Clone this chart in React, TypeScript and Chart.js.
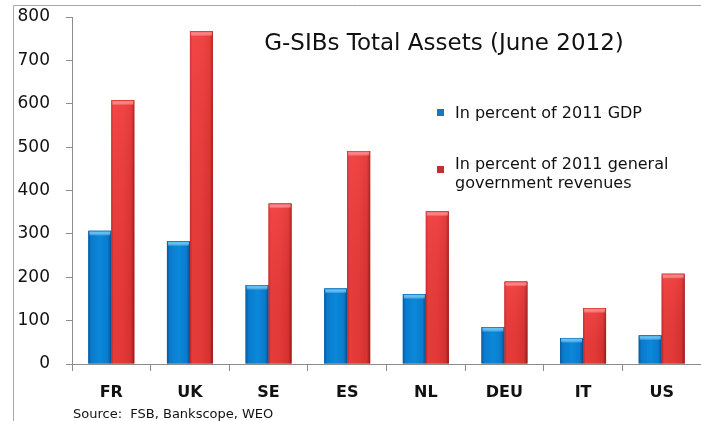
import React, { useEffect, useRef } from "react";
import { Chart, registerables } from "chart.js";

Chart.register(...registerables);

const categories = ["FR", "UK", "SE", "ES", "NL", "DEU", "IT", "US"];
const gdpPct = [307, 283, 182, 174, 161, 85, 60, 66];
const revenuePct = [608, 767, 370, 491, 352, 190, 129, 208];
const yTicks = [0, 100, 200, 300, 400, 500, 600, 700, 800];
const titleText = "G-SIBs Total Assets (June 2012)";
const legendGdp = "In percent of 2011 GDP";
const legendRevenue = ["In percent of 2011 general", "government revenues"];
const sourceText = "Source:  FSB, Bankscope, WEO";

const FONT = "'DejaVu Sans', sans-serif";

const blueStops: [number, string][] = [
  [0, "#08589c"],
  [0.12, "#0a7acb"],
  [0.5, "#0b88da"],
  [0.85, "#0a7bcb"],
  [1, "#064e8c"],
];
const redStops: [number, string][] = [
  [0, "#c02b2b"],
  [0.1, "#ee4040"],
  [0.5, "#ec3d3d"],
  [0.86, "#dc3535"],
  [1, "#961b1b"],
];

const shadePlugin = {
  id: "shade",
  afterDatasetsDraw(chart: any) {
    const ctx = chart.ctx;
    chart.data.datasets.forEach((ds: any, di: number) => {
      const meta = chart.getDatasetMeta(di);
      const stops = di === 0 ? blueStops : redStops;
      const hi = di === 0 ? "#5cc2f4" : "#ff7b7b";
      const edge = di === 0 ? "#0a6cb8" : "#d83030";
      meta.data.forEach((el: any) => {
        const { x, y, base, width } = el.getProps(["x", "y", "base", "width"], true);
        const l = x - width / 2;
        const h = base - y;
        const g = ctx.createLinearGradient(l, 0, l + width, 0);
        stops.forEach(([o, c]) => g.addColorStop(o, c));
        ctx.save();
        ctx.fillStyle = g;
        ctx.fillRect(l, y, width, h);
        if (di === 1) {
          const v = ctx.createLinearGradient(0, y, 0, base);
          v.addColorStop(0, "rgba(255,90,90,0.25)");
          v.addColorStop(1, "rgba(120,0,0,0.08)");
          ctx.fillStyle = v;
          ctx.fillRect(l, y, width, h);
        }
        const tg = ctx.createLinearGradient(0, y, 0, y + 5);
        tg.addColorStop(0, edge);
        tg.addColorStop(0.25, hi);
        tg.addColorStop(1, "rgba(255,255,255,0)");
        ctx.fillStyle = tg;
        ctx.fillRect(l + 1, y, width - 2, Math.min(5, h));
        ctx.restore();
      });
    });
  },
};

const decorPlugin = {
  id: "decor",
  afterDraw(chart: any) {
    const ctx = chart.ctx;
    const a = chart.chartArea;
    ctx.save();
    // frame
    ctx.strokeStyle = "#a6a6a6";
    ctx.lineWidth = 1;
    ctx.beginPath();
    ctx.moveTo(13.5, chart.height);
    ctx.lineTo(13.5, 5.5);
    ctx.lineTo(chart.width, 5.5);
    ctx.stroke();
    // title
    ctx.fillStyle = "#111";
    ctx.textBaseline = "alphabetic";
    ctx.textAlign = "center";
    ctx.font = `23px ${FONT}`;
    ctx.fillText(titleText, a.left + 372, 50);
    // legend
    ctx.textAlign = "left";
    ctx.font = `16px ${FONT}`;
    const lx = a.left + 365;
    ctx.fillStyle = "#0a7bcb";
    ctx.fillRect(lx, 109, 7, 7);
    ctx.fillStyle = "#c0302f";
    ctx.fillRect(lx, 166, 7, 7);
    ctx.fillStyle = "#111";
    ctx.fillText(legendGdp, lx + 18, 118);
    ctx.fillText(legendRevenue[0], lx + 18, 169);
    ctx.fillText(legendRevenue[1], lx + 18, 188);
    // source
    ctx.font = `13px ${FONT}`;
    ctx.fillText(sourceText, a.left + 1, 418);
    ctx.restore();
  },
};

export default function App() {
  const ref = useRef<HTMLCanvasElement>(null);
  useEffect(() => {
    if (!ref.current) return;
    const chart = new Chart(ref.current, {
      type: "bar",
      data: {
        labels: categories,
        datasets: [
          { label: legendGdp, data: gdpPct, backgroundColor: "#0a7bcb" },
          { label: legendRevenue.join(" "), data: revenuePct, backgroundColor: "#e03838" },
        ],
      },
      options: {
        animation: false,
        responsive: false,
        devicePixelRatio: 1,
        layout: { padding: { top: 17, left: 0, right: 0, bottom: 0 } },
        plugins: { legend: { display: false }, tooltip: { enabled: false } },
        datasets: { bar: { categoryPercentage: 0.585, barPercentage: 1 } },
        scales: {
          x: {
            grid: { drawOnChartArea: false, tickLength: 7, color: "#8c8c8c" },
            border: { color: "#8c8c8c" },
            ticks: { color: "#111", font: { family: FONT, size: 16, weight: "bold" }, padding: 12 },
            afterFit: (s: any) => { s.height = 57; s.paddingLeft = 0; s.paddingRight = 0; },
          },
          y: {
            min: 0,
            max: 800,
            afterBuildTicks: (s: any) => { s.ticks = yTicks.map((v) => ({ value: v })); },
            grid: { drawOnChartArea: false, tickLength: 6, color: "#8c8c8c" },
            border: { color: "#8c8c8c" },
            ticks: { color: "#111", font: { family: FONT, size: 17 }, padding: 16 },
            afterFit: (s: any) => { s.width = 72; s.paddingTop = 0; s.paddingBottom = 0; },
          },
        },
      },
      plugins: [shadePlugin, decorPlugin],
    });
    return () => chart.destroy();
  }, []);
  return (
    <div style={{ position: "absolute", left: 0, top: 0, width: 701, height: 421, background: "#fff" }}>
      <canvas ref={ref} width={701} height={421} style={{ width: 701, height: 421 }} />
    </div>
  );
}
